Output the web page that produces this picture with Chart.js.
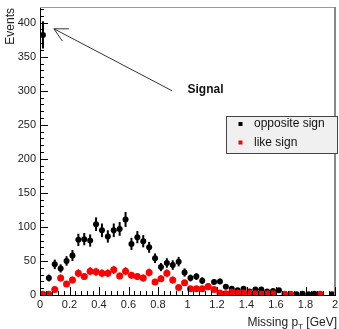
<!DOCTYPE html>
<html><head><meta charset="utf-8">
<script src="https://cdn.jsdelivr.net/npm/chart.js@4/dist/chart.umd.min.js"></script>
<style>html,body{margin:0;padding:0;background:#fff}#wrap{width:339px;height:329px}</style>
</head><body><div id="wrap"><canvas id="c" width="339" height="329"></canvas></div>
<script>
const binCenters = [0.02,0.06,0.10,0.14,0.18,0.22,0.26,0.30,0.34,0.38,0.42,0.46,0.50,0.54,0.58,0.62,0.66,0.70,0.74,0.78,
  0.82,0.86,0.90,0.94,0.98,1.02,1.06,1.10,1.14,1.18,1.22,1.26,1.30,1.34,1.38,1.42,1.46,1.50,1.54,1.58,
  1.62,1.66,1.70,1.74,1.78,1.82,1.86,1.90,1.94,1.98];
const oppositeSign = [382,25,45,39,50,58,81,82,80,104,95,86,95,97,111,75,85,79,70,54,
  41,47,44,49,33,25,27,21,13,19,20,12,9,7,9,5,8,8,5,6,
  7,1,1,1,2,1,2,1,null,1];
const oppositeErr = [20,5,7,6,7,8,9,9,9,10,10,9,10,10,11,9,9,9,8,7,
  6,7,7,7,6,5,5,5,4,4,4,3,3,3,3,2,3,3,2,2,
  3,1,1,1,1,1,1,1,0,1];
const likeSign = [1,1,8,25,16,22,32,27,35,34,32,32,37,28,35,29,27,25,33,19,
  24,32,22,11,18,9,9,9,12,8,3,2,4,3,3,3,2,1,2,2,
  null,1,1,null,null,null,null,1,null,null];
const likeErr = [1,1,3,5,4,5,6,5,6,6,6,6,6,5,6,5,5,5,6,4,
  5,6,5,3,4,3,3,3,3,3,2,1,2,2,2,2,1,1,1,1,
  0,1,1,0,0,0,0,1,0,0];
const yTickValues = [0,50,100,150,200,250,300,350,400];
const xTickValues = [0,0.2,0.4,0.6,0.8,1,1.2,1.4,1.6,1.8,2];
const seriesLabels = ['opposite sign','like sign'];
const seriesColors = ['#000000','#ff0000'];
const signalText = 'Signal';
const signalPos = [1.0, 302];
const arrowFrom = [0.895, 300];
const arrowTo = [0.094, 391];

const FONT = 'Liberation Sans, Arial, sans-serif';

function pts(vals){ return binCenters.map((x,i)=>({x:x,y:vals[i]})); }

const errs = [oppositeErr, likeErr];
const vals = [oppositeSign, likeSign];

const errorBarPlugin = {
  id:'errbars',
  beforeDatasetDraw(chart, args){
    const i = args.index;
    const ctx = chart.ctx, xs = chart.scales.x, ys = chart.scales.y;
    ctx.save();
    ctx.strokeStyle = seriesColors[i];
    ctx.lineWidth = i===0 ? 2 : 1.5;
    vals[i].forEach((v,k)=>{
      if(v===null || !errs[i][k]) return;
      const px = xs.getPixelForValue(binCenters[k]);
      ctx.beginPath();
      ctx.moveTo(px, ys.getPixelForValue(v-errs[i][k]));
      ctx.lineTo(px, ys.getPixelForValue(v+errs[i][k]));
      ctx.stroke();
    });
    ctx.restore();
  }
};

const decoPlugin = {
  id:'deco',
  afterDraw(chart){
    const ctx = chart.ctx, xs = chart.scales.x, ys = chart.scales.y, a = chart.chartArea;
    ctx.save();
    // frame top/right
    ctx.strokeStyle = '#999'; ctx.lineWidth = 1;
    ctx.beginPath(); ctx.moveTo(a.left, a.top+0.5); ctx.lineTo(a.right, a.top+0.5); ctx.stroke();
    ctx.strokeStyle = '#888'; ctx.lineWidth = 2;
    ctx.beginPath(); ctx.moveTo(a.right, a.top); ctx.lineTo(a.right, a.bottom); ctx.stroke();
    // inner ticks
    ctx.strokeStyle = '#000'; ctx.lineWidth = 1;
    for(let v=0; v<=420; v+=10){
      const py = Math.round(ys.getPixelForValue(v))+0.5;
      const len = (v%50===0) ? 8 : 4;
      ctx.beginPath(); ctx.moveTo(a.left, py); ctx.lineTo(a.left+len, py); ctx.stroke();
    }
    for(let k=0; k<=50; k++){
      const v = k*0.04;
      const px = Math.round(xs.getPixelForValue(v))+0.5;
      const len = (k%5===0) ? 8 : 4;
      ctx.beginPath(); ctx.moveTo(px, a.bottom); ctx.lineTo(px, a.bottom-len); ctx.stroke();
    }
    // arrow
    const x1 = xs.getPixelForValue(arrowFrom[0]), y1 = ys.getPixelForValue(arrowFrom[1]);
    const x2 = xs.getPixelForValue(arrowTo[0]), y2 = ys.getPixelForValue(arrowTo[1]);
    ctx.strokeStyle = '#333'; ctx.lineWidth = 1;
    ctx.beginPath(); ctx.moveTo(x1,y1); ctx.lineTo(x2,y2); ctx.stroke();
    const ang = Math.atan2(y1-y2, x1-x2);
    const hl = 15;
    ctx.beginPath();
    ctx.moveTo(x2 + hl*Math.cos(ang-0.48), y2 + hl*Math.sin(ang-0.48));
    ctx.lineTo(x2,y2);
    ctx.lineTo(x2 + hl*Math.cos(ang+0.48), y2 + hl*Math.sin(ang+0.48));
    ctx.stroke();
    // Signal label
    ctx.fillStyle = '#111';
    ctx.font = 'bold 12px ' + FONT;
    ctx.textBaseline = 'middle'; ctx.textAlign = 'left';
    ctx.fillText(signalText, xs.getPixelForValue(signalPos[0]), ys.getPixelForValue(signalPos[1]));
    // legend box
    const lx = 226, ly = 116, lw = 111, lh = 37;
    ctx.fillStyle = '#f0f0f0'; ctx.fillRect(lx, ly, lw, lh);
    ctx.strokeStyle = '#444'; ctx.lineWidth = 1;
    ctx.strokeRect(lx+0.5, ly+0.5, lw, lh);
    ctx.font = '12px ' + FONT;
    seriesLabels.forEach((lab,i)=>{
      const cy = ly + 8 + i*18.5;
      ctx.fillStyle = seriesColors[i];
      ctx.fillRect(238.5, cy-2, 4, 4);
      ctx.fillStyle = '#111';
      ctx.fillText(lab, 254, cy);
    });
    // axis titles
    ctx.font = '12px ' + FONT;
    ctx.fillStyle = '#222';
    ctx.save();
    ctx.translate(10.5, 8);
    ctx.rotate(-Math.PI/2);
    ctx.textAlign = 'right'; ctx.textBaseline = 'middle';
    ctx.fillText('Events', 0, 0);
    ctx.restore();
    // x title with subscript
    ctx.textBaseline = 'alphabetic'; ctx.textAlign = 'left';
    const part1 = 'Missing p', sub = 'T', part2 = ' [GeV]';
    ctx.font = '12px ' + FONT; const w1 = ctx.measureText(part1).width, w3 = ctx.measureText(part2).width;
    ctx.font = '8px ' + FONT; const w2 = ctx.measureText(sub).width;
    let sx = 337 - (w1+w2+w3);
    const by = 326;
    ctx.font = '12px ' + FONT; ctx.fillText(part1, sx, by); sx += w1;
    ctx.font = '8px ' + FONT; ctx.fillText(sub, sx, by+3); sx += w2;
    ctx.font = '12px ' + FONT; ctx.fillText(part2, sx, by);
    ctx.restore();
  }
};

new Chart(document.getElementById('c'), {
  type:'scatter',
  data:{ datasets:[
    {label:seriesLabels[0], data:pts(oppositeSign), backgroundColor:seriesColors[0], borderWidth:0, pointRadius:3, order:2},
    {label:seriesLabels[1], data:pts(likeSign), backgroundColor:seriesColors[1], borderWidth:0, pointRadius:3.5, order:1}
  ]},
  options:{
    responsive:false, animation:false, devicePixelRatio:1,
    layout:{padding:{top:7,right:2,left:0,bottom:0}},
    plugins:{legend:{display:false}, tooltip:{enabled:false}},
    scales:{
      x:{type:'linear', min:0, max:2,
        afterBuildTicks:s=>{ s.ticks = xTickValues.map(v=>({value:v})); },
        afterFit:s=>{ s.height = 34; s.paddingLeft = 0; s.paddingRight = 0; },
        ticks:{autoSkip:false, maxRotation:0, minRotation:0, padding:3, color:'#222',
          font:{family:FONT, size:11}, callback:v=>String(+(+v).toFixed(1))},
        grid:{display:false, drawTicks:false},
        border:{display:true, color:'#000', width:1}
      },
      y:{type:'linear', min:0, max:423,
        afterBuildTicks:s=>{ s.ticks = yTickValues.map(v=>({value:v})); },
        afterFit:s=>{ s.width = 40; s.paddingTop = 0; s.paddingBottom = 0; },
        ticks:{padding:4, color:'#222', font:{family:FONT, size:11}},
        grid:{display:false, drawTicks:false},
        border:{display:true, color:'#000', width:1}
      }
    }
  },
  plugins:[errorBarPlugin, decoPlugin]
});
</script></body></html>
